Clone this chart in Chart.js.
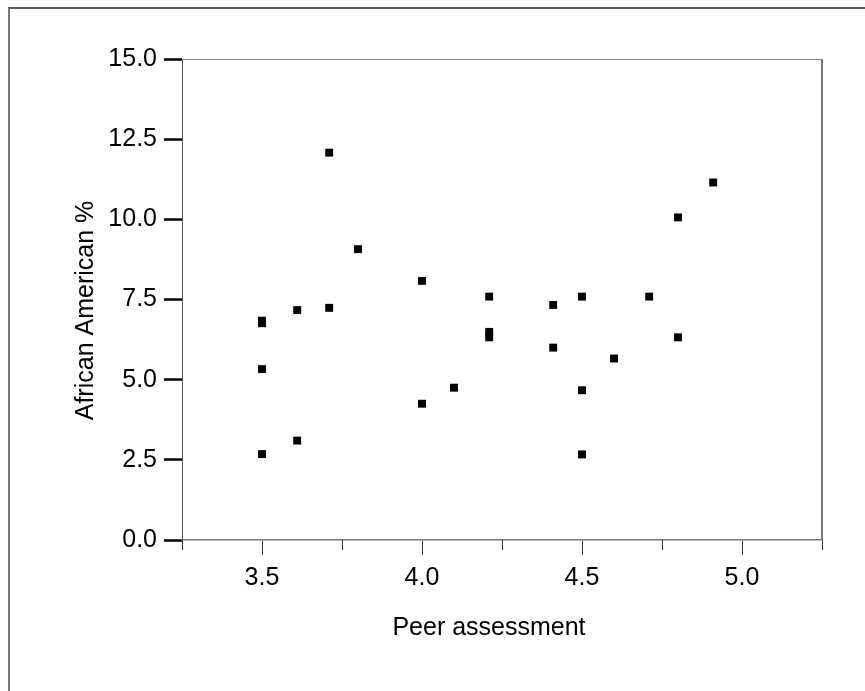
<!DOCTYPE html>
<html>
<head>
<meta charset="utf-8">
<script src="https://cdn.jsdelivr.net/npm/chart.js@4/dist/chart.umd.min.js"></script>
<style>
  html, body { margin: 0; padding: 0; background: #fff; }
  #wrap { width: 865px; height: 691px; }
</style>
</head>
<body>
<div id="wrap"><canvas id="chartPeer"></canvas></div>
<script>
// valores
const peerScore = [3.5, 3.5, 3.5, 3.5, 3.61, 3.61, 3.71, 3.71, 3.8, 4.0, 4.0, 4.1, 4.21, 4.21, 4.21, 4.41, 4.41, 4.5, 4.5, 4.5, 4.6, 4.71, 4.8, 4.8, 4.91];
const africanAmericanPct = [6.84, 6.76, 5.33, 2.68, 7.17, 3.1, 12.08, 7.24, 9.07, 8.08, 4.25, 4.75, 7.59, 6.49, 6.32, 7.33, 6.0, 7.59, 4.67, 2.67, 5.66, 7.59, 10.06, 6.32, 11.15];
const xTicks = [3.5, 4.0, 4.5, 5.0];
const xMinorTicks = [3.25, 3.75, 4.25, 4.75, 5.25];
const yTicks = [0, 2.5, 5, 7.5, 10, 12.5, 15];
const xTitulo = 'Peer assessment';
const yTitulo = 'African American %';

const fuente = "'Liberation Sans', Arial, sans-serif";

const marco = {
    id: 'marco',
    beforeDraw(chart) {
        const { ctx } = chart;
        ctx.save();
        ctx.fillStyle = '#fff';
        ctx.fillRect(0, 0, chart.width, chart.height);
        ctx.strokeStyle = '#222';
        ctx.lineWidth = 1.5;
        ctx.beginPath(); ctx.moveTo(8, 8); ctx.lineTo(chart.width, 8); ctx.stroke();
        ctx.strokeStyle = '#777';
        ctx.lineWidth = 2;
        ctx.beginPath(); ctx.moveTo(9, 8); ctx.lineTo(9, chart.height); ctx.stroke();
        ctx.restore();
    },
    afterDraw(chart) {
        const { ctx, chartArea: a, scales: { x } } = chart;
        ctx.save();
        // borde superior y derecho del area
        ctx.strokeStyle = '#888';
        ctx.lineWidth = 1;
        ctx.beginPath(); ctx.moveTo(a.left, a.top + 0.5); ctx.lineTo(a.right, a.top + 0.5); ctx.stroke();
        ctx.lineWidth = 2;
        ctx.strokeStyle = '#777';
        ctx.beginPath(); ctx.moveTo(a.right, a.top); ctx.lineTo(a.right, a.bottom); ctx.stroke();
        // ticks menores del eje x
        ctx.lineWidth = 1;
        ctx.strokeStyle = '#333';
        xMinorTicks.forEach(v => {
            const px = Math.round(x.getPixelForValue(v)) + 0.5;
            ctx.beginPath(); ctx.moveTo(px, a.bottom); ctx.lineTo(px, a.bottom + 10); ctx.stroke();
        });
        // titulos de ejes (un poco descentrados como en el original)
        ctx.fillStyle = '#000';
        ctx.font = '25px ' + fuente;
        ctx.textAlign = 'center';
        ctx.textBaseline = 'alphabetic';
        ctx.fillText(xTitulo, (a.left + a.right) / 2 - 13, a.bottom + 95);
        ctx.translate(a.left - 89, (a.top + a.bottom) / 2 + 11);
        ctx.rotate(-Math.PI / 2);
        ctx.fillText(yTitulo, 0, 0);
        ctx.restore();
    }
};

new Chart(document.getElementById('chartPeer').getContext('2d'), {
    type: 'scatter',
    data: {
        datasets: [{
            data: peerScore.map((v, i) => ({ x: v, y: africanAmericanPct[i] })),
            pointStyle: 'rect',
            pointRadius: 5.6,
            pointBackgroundColor: '#000',
            pointBorderWidth: 0
        }]
    },
    options: {
        responsive: true,
        maintainAspectRatio: false,
        animation: false,
        layout: { padding: { top: 59, right: 43, left: 0, bottom: 0 } },
        plugins: { legend: { display: false }, tooltip: { enabled: false } },
        scales: {
            x: {
                type: 'linear',
                min: 3.25, max: 5.25,
                afterBuildTicks: s => { s.ticks = xTicks.map(v => ({ value: v })); },
                afterFit: s => { s.height = 151; },
                grid: { drawOnChartArea: false, tickLength: 15, tickColor: '#333', tickWidth: 1 },
                border: { color: '#777', width: 1.5 },
                ticks: { padding: 8, color: '#000', font: { family: fuente, size: 25 }, callback: v => v.toFixed(1) },
                title: { display: false }
            },
            y: {
                type: 'linear',
                min: 0, max: 15,
                afterBuildTicks: s => { s.ticks = yTicks.map(v => ({ value: v })); },
                afterFit: s => { s.width = 182; },
                grid: { drawOnChartArea: false, tickLength: 18, tickColor: '#000', tickWidth: 2.5 },
                border: { color: '#555', width: 1 },
                ticks: { padding: 7, color: '#000', font: { family: fuente, size: 25 }, callback: v => v.toFixed(1) },
                title: { display: false }
            }
        }
    },
    plugins: [marco]
});
</script>
</body>
</html>
